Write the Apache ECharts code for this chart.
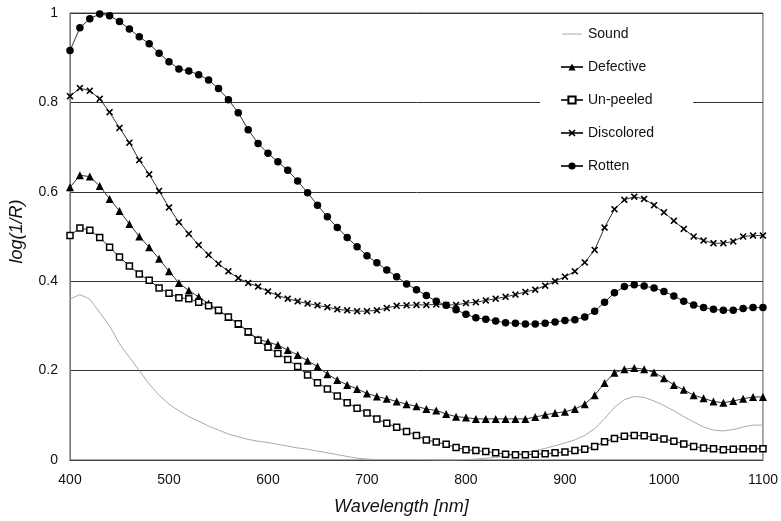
<!DOCTYPE html>
<html>
<head>
<meta charset="utf-8">
<script src="https://cdn.jsdelivr.net/npm/echarts@6/dist/echarts.min.js"></script>
<style>
html,body{margin:0;padding:0;background:#fff;}
#chart{width:781px;height:521px;}
</style>
</head>
<body>
<div id="chart"></div>
<script>
var wavelengths = [400,410,420,430,440,450,460,470,480,490,500,510,520,530,540,550,560,570,580,590,600,610,620,630,640,650,660,670,680,690,700,710,720,730,740,750,760,770,780,790,800,810,820,830,840,850,860,870,880,890,900,910,920,930,940,950,960,970,980,990,1000,1010,1020,1030,1040,1050,1060,1070,1080,1090,1100];

var sound = [0.36,0.37,0.36,0.33,0.30,0.26,0.23,0.20,0.17,0.145,0.125,0.11,0.097,0.087,0.076,0.067,0.058,0.052,0.046,0.042,0.039,0.035,0.031,0.027,0.024,0.020,0.016,0.012,0.008,0.004,0.002,0.001,0.001,0.001,0.001,0.001,0.001,0,0,0,0.001,0.002,0.004,0.006,0.009,0.012,0.016,0.021,0.026,0.032,0.038,0.045,0.055,0.070,0.092,0.118,0.135,0.142,0.140,0.132,0.122,0.110,0.097,0.085,0.074,0.067,0.065,0.068,0.074,0.078,0.078];

var defective = [0.610,0.637,0.634,0.613,0.584,0.557,0.528,0.500,0.476,0.450,0.422,0.396,0.379,0.365,0.350,0.335,0.320,0.304,0.287,0.270,0.264,0.257,0.246,0.235,0.222,0.209,0.192,0.179,0.168,0.159,0.149,0.142,0.137,0.131,0.125,0.120,0.114,0.111,0.103,0.097,0.095,0.092,0.092,0.092,0.092,0.092,0.092,0.096,0.101,0.105,0.108,0.114,0.125,0.145,0.172,0.195,0.203,0.206,0.203,0.196,0.183,0.168,0.157,0.145,0.138,0.131,0.128,0.132,0.137,0.141,0.141];

var unpeeled = [0.502,0.519,0.514,0.498,0.476,0.454,0.434,0.416,0.402,0.385,0.373,0.363,0.361,0.353,0.345,0.335,0.320,0.305,0.287,0.268,0.252,0.238,0.225,0.209,0.190,0.173,0.159,0.143,0.128,0.116,0.105,0.092,0.082,0.073,0.064,0.055,0.045,0.040,0.035,0.028,0.023,0.021,0.019,0.016,0.013,0.012,0.012,0.013,0.014,0.016,0.018,0.021,0.024,0.030,0.041,0.048,0.053,0.055,0.054,0.051,0.047,0.042,0.036,0.030,0.027,0.025,0.023,0.024,0.025,0.025,0.025];

var discolored = [0.814,0.832,0.826,0.808,0.778,0.743,0.710,0.671,0.639,0.602,0.565,0.532,0.506,0.481,0.459,0.439,0.422,0.407,0.396,0.388,0.377,0.368,0.361,0.355,0.350,0.346,0.342,0.337,0.335,0.333,0.333,0.335,0.340,0.345,0.346,0.347,0.347,0.348,0.347,0.347,0.351,0.353,0.357,0.361,0.365,0.370,0.376,0.381,0.390,0.400,0.410,0.422,0.442,0.470,0.520,0.561,0.582,0.589,0.584,0.570,0.554,0.535,0.517,0.500,0.491,0.485,0.485,0.489,0.500,0.502,0.502];

var rotten = [0.916,0.967,0.987,0.998,0.994,0.981,0.964,0.947,0.931,0.910,0.891,0.875,0.870,0.862,0.850,0.831,0.806,0.777,0.739,0.708,0.686,0.667,0.648,0.624,0.598,0.570,0.544,0.520,0.498,0.477,0.457,0.441,0.425,0.410,0.394,0.381,0.368,0.355,0.346,0.336,0.326,0.318,0.315,0.311,0.307,0.306,0.304,0.304,0.306,0.309,0.312,0.314,0.320,0.333,0.353,0.374,0.388,0.392,0.389,0.385,0.377,0.367,0.355,0.347,0.341,0.337,0.335,0.335,0.339,0.341,0.341];

var seriesNames = ['Sound','Defective','Un-peeled','Discolored','Rotten'];
var xTitle = 'Wavelength [nm]';
var yTitle = 'log(1/R)';

function pairs(vals){ return wavelengths.map(function(w,i){ return [w, vals[i]]; }); }

var crossPath = 'path://M0,1.6 L1.6,0 L5,3.4 L8.4,0 L10,1.6 L6.6,5 L10,8.4 L8.4,10 L5,6.6 L1.6,10 L0,8.4 L3.4,5 Z';
var plainLineIcon = 'path://M0,0 L0.01,0 L0,0.01 Z M0,4.5 L22,4.5 L22,5.5 L0,5.5 Z M22,10 L21.99,10 L22,9.99 Z';
var font = 'Liberation Sans, Arial, sans-serif';

var legendData = seriesNames.map(function(n){
  return n === 'Sound' ? {name:n, icon:plainLineIcon} : {name:n};
});

var chart = echarts.init(document.getElementById('chart'), null, {renderer:'canvas'});
chart.setOption({
  animation: false,
  backgroundColor: '#fff',
  textStyle: {fontFamily: font},
  grid: {left:70, right:18, top:13, bottom:59, show:true, borderColor:'#555', borderWidth:1, backgroundColor:'transparent'},
  legend: {
    orient:'vertical', left:540, top:18,
    padding:[9,39,12,20],
    backgroundColor:'#fff',
    itemWidth:22, itemHeight:9, itemGap:19,
    textStyle:{fontFamily:font, fontSize:14, color:'#111', lineHeight:14},
    data: legendData
  },
  xAxis: {
    type:'value', min:400, max:1100, interval:100,
    name: xTitle, nameLocation:'middle', nameGap:38,
    nameTextStyle:{fontFamily:font, fontSize:18, fontStyle:'italic', color:'#111', padding:[0,30,0,0]},
    axisLine:{show:true, lineStyle:{color:'#444', width:1}},
    axisTick:{show:false},
    axisLabel:{fontFamily:font, fontSize:14, color:'#111', margin:13, formatter:function(v){ return String(v); }},
    splitLine:{show:false}
  },
  yAxis: {
    type:'value', min:0, max:1, interval:0.2,
    name: yTitle, nameLocation:'middle', nameGap:44,
    nameTextStyle:{fontFamily:font, fontSize:18, fontStyle:'italic', color:'#111', padding:[0,0,0,10]},
    axisLine:{show:true, lineStyle:{color:'#777', width:1}},
    axisTick:{show:false},
    axisLabel:{fontFamily:font, fontSize:14, color:'#111', margin:12},
    splitLine:{show:true, lineStyle:{color:'#333', width:1}}
  },
  series: [
    {name:'Sound', type:'line', data:pairs(sound), symbol:'none',
     lineStyle:{color:'#aaa', width:1}, itemStyle:{color:'#aaa'}, z:2},
    {name:'Defective', type:'line', data:pairs(defective), symbol:'triangle', symbolSize:8,
     lineStyle:{color:'#333', width:1}, itemStyle:{color:'#000'}, z:3},
    {name:'Un-peeled', type:'line', data:pairs(unpeeled), symbol:'rect', symbolSize:6,
     lineStyle:{color:'#333', width:1}, itemStyle:{color:'#fff', borderColor:'#000', borderWidth:1.5}, z:3},
    {name:'Discolored', type:'line', data:pairs(discolored), symbol:crossPath, symbolSize:7,
     lineStyle:{color:'#333', width:1}, itemStyle:{color:'#000'}, z:3},
    {name:'Rotten', type:'line', data:pairs(rotten), symbol:'circle', symbolSize:7.5,
     lineStyle:{color:'#333', width:1}, itemStyle:{color:'#000'}, z:3}
  ]
});
</script>
</body>
</html>
